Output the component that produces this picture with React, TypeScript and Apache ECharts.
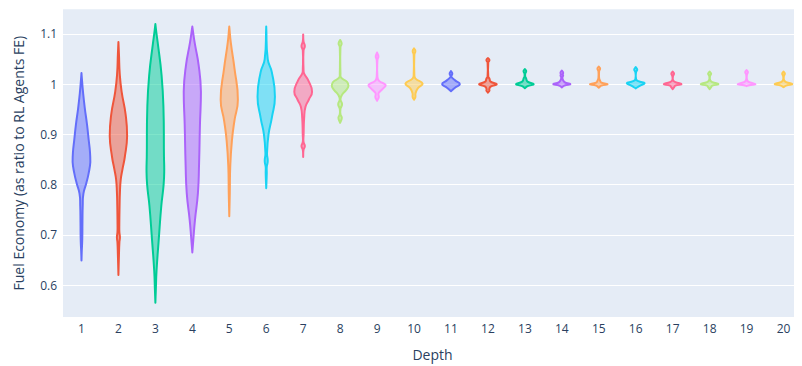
import React, { useEffect, useRef } from "react";
import * as echarts from "echarts";

// Depth categories
const depths = ["1","2","3","4","5","6","7","8","9","10","11","12","13","14","15","16","17","18","19","20"];

// Violin profiles: [fuel economy ratio, relative density (1 = widest)]
const violin1 = [[1.022,0],[1.01,0.05],[0.985,0.17],[0.953,0.37],[0.919,0.63],[0.888,0.82],[0.865,0.96],[0.845,1],[0.822,0.8],[0.803,0.55],[0.782,0.22],[0.758,0.14],[0.725,0.11],[0.692,0.09],[0.666,0.03],[0.649,0]];
const violin2 = [[1.084,0],[1.06,0.06],[1.02,0.15],[0.985,0.36],[0.94,0.81],[0.897,0.98],[0.855,0.72],[0.83,0.45],[0.81,0.26],[0.785,0.17],[0.758,0.13],[0.72,0.1],[0.705,0.11],[0.695,0.17],[0.685,0.11],[0.66,0.06],[0.62,0]];
const violin3 = [[1.1197,0],[1.1,0.13],[1.083,0.26],[1.0175,0.7],[0.953,0.91],[0.855,0.97],[0.83,1],[0.8,0.93],[0.758,0.67],[0.693,0.39],[0.628,0.13],[0.59,0.05],[0.565,0]];
const violin4 = [[1.1146,0],[1.083,0.26],[1.037,0.72],[0.985,0.97],[0.919,0.86],[0.841,0.76],[0.783,0.63],[0.73,0.3],[0.69,0.11],[0.665,0]];
const violin5 = [[1.1146,0],[1.083,0.17],[1.031,0.59],[0.969,0.97],[0.927,0.58],[0.888,0.3],[0.836,0.11],[0.783,0.06],[0.737,0]];
const violin6 = [[1.1146,0],[1.05,0.17],[1.024,0.63],[0.975,0.98],[0.933,0.63],[0.9,0.26],[0.862,0.09],[0.847,0.17],[0.835,0.06],[0.822,0.06],[0.793,0]];
const violin7 = [[1.099,0],[1.085,0.04],[1.076,0.19],[1.067,0.04],[1.03,0.04],[1.021,0.11],[1.008,0.56],[0.985,1],[0.969,0.63],[0.955,0.26],[0.933,0.11],[0.9,0.05],[0.885,0.04],[0.877,0.19],[0.869,0.04],[0.855,0]];
const violin8 = [[1.088,0],[1.081,0.17],[1.074,0.04],[1.02,0.04],[1.013,0.11],[1.0045,0.78],[0.997,0.94],[0.988,0.67],[0.979,0.22],[0.97,0.04],[0.96,0.22],[0.951,0.04],[0.94,0.04],[0.933,0.19],[0.923,0]];
const violin9 = [[1.063,0],[1.055,0.15],[1.048,0.04],[1.015,0.04],[1.0065,0.22],[0.998,0.97],[0.99,0.61],[0.982,0.17],[0.974,0.19],[0.967,0]];
const violin10 = [[1.0713,0],[1.066,0.15],[1.059,0.04],[1.018,0.04],[1.011,0.17],[1.001,0.97],[0.992,0.44],[0.982,0.17],[0.974,0.15],[0.969,0]];
const violin11 = [[1.026,0],[1.021,0.15],[1.016,0.04],[1.014,0.06],[1.007,0.5],[1.0,1],[0.993,0.45],[0.986,0]];
const violin12 = [[1.052,0],[1.048,0.17],[1.043,0.04],[1.015,0.04],[1.011,0.17],[1.005,0.3],[1.0,1],[0.995,0.3],[0.99,0.15],[0.987,0.17],[0.983,0]];
const violin13 = [[1.03,0],[1.026,0.15],[1.021,0.04],[1.015,0.04],[1.0125,0.12],[1.005,0.3],[1.0,1],[0.996,0.3],[0.992,0]];
const violin14 = [[1.027,0],[1.023,0.15],[1.019,0.1],[1.0175,0.15],[1.012,0.06],[1.004,0.3],[1.0,0.97],[0.997,0.3],[0.9935,0]];
const violin15 = [[1.035,0],[1.031,0.15],[1.026,0.04],[1.012,0.04],[1.008,0.12],[1.003,0.3],[1.0,1],[0.997,0.3],[0.993,0]];
const violin16 = [[1.034,0],[1.029,0.17],[1.024,0.04],[1.01,0.04],[1.006,0.3],[1.002,1],[0.997,0.5],[0.9916,0]];
const violin17 = [[1.025,0],[1.021,0.15],[1.016,0.04],[1.008,0.04],[1.004,0.3],[1.0,1],[0.997,0.3],[0.994,0.17],[0.99,0]];
const violin18 = [[1.025,0],[1.021,0.17],[1.016,0.04],[1.008,0.06],[1.004,0.3],[1.0,1],[0.997,0.3],[0.994,0.17],[0.99,0]];
const violin19 = [[1.028,0],[1.024,0.15],[1.019,0.04],[1.008,0.06],[1.004,0.3],[1.0,1],[0.998,0.3],[0.996,0]];
const violin20 = [[1.025,0],[1.021,0.15],[1.016,0.04],[1.008,0.06],[1.004,0.3],[1.0,1],[0.997,0.3],[0.994,0]];

const violins = [violin1, violin2, violin3, violin4, violin5, violin6, violin7, violin8, violin9, violin10,
  violin11, violin12, violin13, violin14, violin15, violin16, violin17, violin18, violin19, violin20];

const colors = ["#636efa","#EF553B","#00cc96","#ab63fa","#FFA15A","#19d3f3","#FF6692","#B6E880","#FF97FF","#FECB52"];

const yMin = 0.5365;
const yMax = 1.149;

function hexToRgba(hex: string, a: number) {
  const h = hex.replace("#", "");
  const r = parseInt(h.slice(0, 2), 16);
  const g = parseInt(h.slice(2, 4), 16);
  const b = parseInt(h.slice(4, 6), 16);
  return `rgba(${r},${g},${b},${a})`;
}

export default function App() {
  const ref = useRef<HTMLDivElement>(null);
  useEffect(() => {
    if (!ref.current) return;
    const chart = echarts.init(ref.current, undefined, { renderer: "svg" });
    const textColor = "#2a3f5f";
    const font = "'Open Sans', verdana, arial, sans-serif";
    chart.setOption({
      animation: false,
      backgroundColor: "#ffffff",
      grid: {
        left: 63,
        right: -9,
        top: 9.3,
        bottom: 42.7,
        show: true,
        backgroundColor: "#E5ECF6",
        borderWidth: 0,
      },
      xAxis: {
        type: "category",
        data: depths,
        boundaryGap: true,
        name: "Depth",
        nameLocation: "middle",
        nameGap: 30,
        nameTextStyle: { color: textColor, fontSize: 14, fontFamily: font },
        axisLine: { show: false },
        axisTick: { show: false },
        splitLine: { show: false },
        axisLabel: { color: textColor, fontSize: 12, fontFamily: font, margin: 5 },
      },
      yAxis: {
        type: "value",
        min: yMin,
        max: yMax,
        name: "Fuel Economy (as ratio to RL Agents FE)",
        nameLocation: "middle",
        nameGap: 38,
        nameTextStyle: { color: textColor, fontSize: 14, fontFamily: font },
        axisLine: { show: false },
        axisTick: { show: false },
        splitLine: { show: true, showMinLine: false, showMaxLine: false, lineStyle: { color: "#ffffff", width: 1 } },
        axisLabel: { color: textColor, fontSize: 12, fontFamily: font, margin: 6, showMinLabel: false, showMaxLabel: false },
      },
      series: [
        {
          type: "custom",
          data: depths.map((d, i) => [i, 1]),
          encode: { x: 0, y: 1 },
          clip: true,
          renderItem: (params: any, api: any) => {
            const idx = api.value(0);
            const prof = violins[idx];
            const cx = api.coord([idx, 1])[0];
            const band = api.size([1, 0])[0];
            const scale = band * 0.24;
            const right = prof.map(([v, w]) => [cx + w * scale, api.coord([idx, v])[1]]);
            const left = prof.slice().reverse().map(([v, w]) => [cx - w * scale, api.coord([idx, v])[1]]);
            const pts = right.concat(left);
            let x0 = Infinity, y0 = Infinity, x1 = -Infinity, y1 = -Infinity;
            pts.forEach(([x, y]) => { x0 = Math.min(x0, x); x1 = Math.max(x1, x); y0 = Math.min(y0, y); y1 = Math.max(y1, y); });
            const color = colors[idx % colors.length];
            return {
              type: "polygon",
              shape: { points: pts, smooth: 0.5, smoothConstraint: [[x0, y0], [x1, y1]] },
              style: {
                fill: hexToRgba(color, 0.5),
                stroke: color,
                lineWidth: 2,
                lineJoin: "round",
              },
            };
          },
        },
      ],
    });
    return () => chart.dispose();
  }, []);
  return <div ref={ref} style={{ width: 802, height: 366, marginLeft: -8, marginTop: -8 }} />;
}
